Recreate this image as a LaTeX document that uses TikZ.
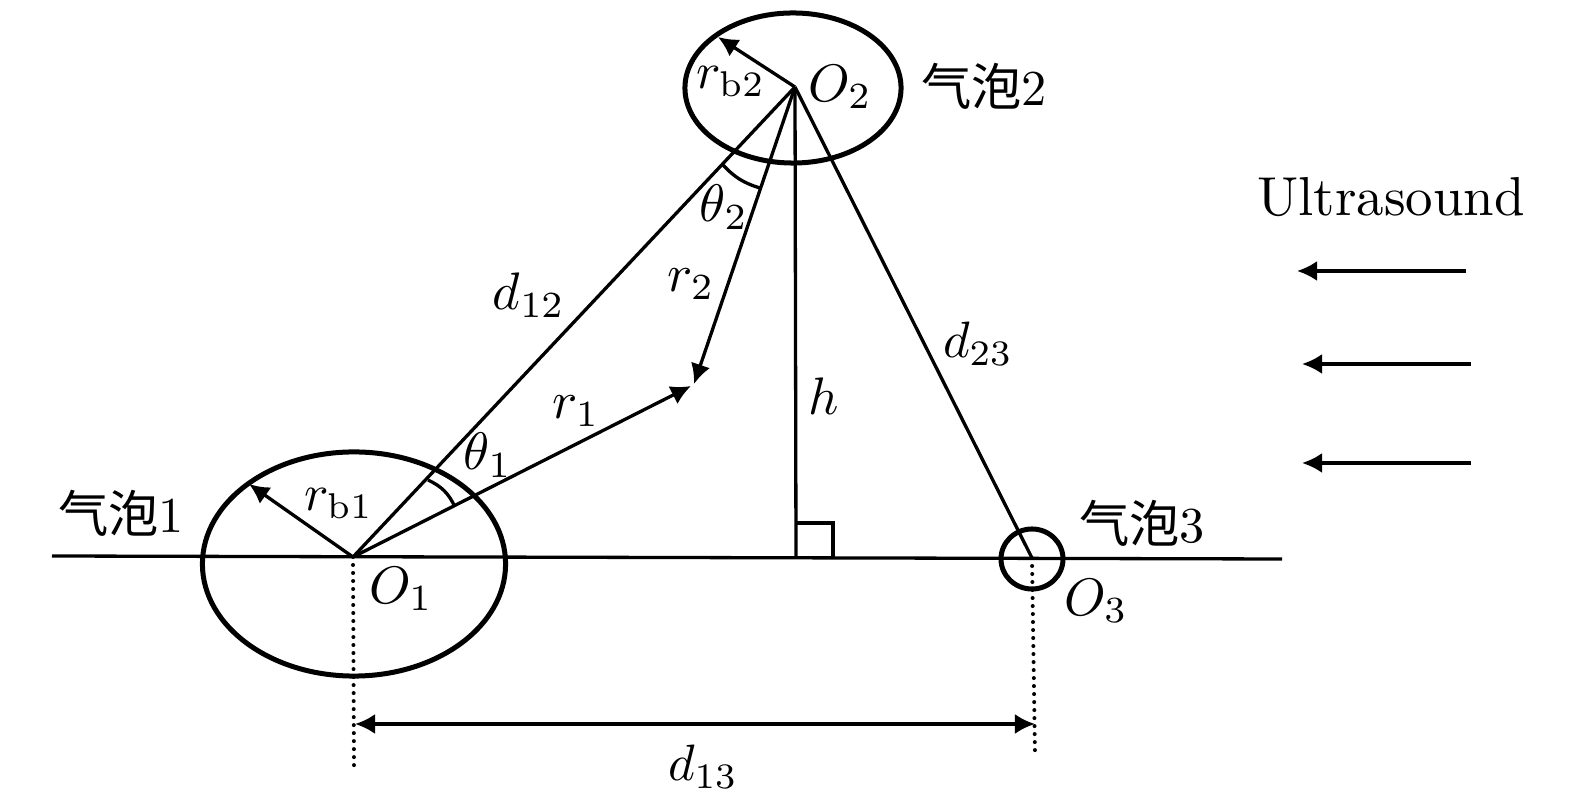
\documentclass[tikz,border=0pt]{standalone}
\usepackage{fontspec}
\usetikzlibrary{shapes.geometric, arrows.meta}
\newfontfamily\cjk{Noto Sans CJK SC}
\tikzstyle{bubble} = [ellipse, draw, line width=0.05cm, inner sep=0, outer sep=0]
\tikzstyle{mtext} = [inner sep=0, scale=1.5]
\tikzstyle{bubtext} = [inner sep=0, scale=1.43]
\tikzstyle{thinline} = [line width=0.033cm]
\tikzstyle{radarrow} = [line width=0.033cm, -{Latex[length=0.2cm,width=0.2cm]}]
\tikzstyle{spanarrow} = [line width=0.033cm, {Latex[length=0.2cm,width=0.2cm]}-{Latex[length=0.2cm,width=0.2cm]}]
\tikzstyle{guideline} = [line width=0.04cm, line cap=round, dash pattern=on 0pt off 0.08cm]

\begin{document}
\begin{tikzpicture}[x=0.01cm, y=-0.01cm]
\useasboundingbox (0,0) rectangle (1575,807);
%Points
\coordinate (o1) at (353,557);
\coordinate (o2) at (795,87);
\coordinate (o3) at (1032,558);
\coordinate (foot) at (796,558);
\coordinate (axisl) at (52,556);
\coordinate (axisr) at (1282,559);
\coordinate (tip1) at (691,386);
\coordinate (tip2) at (694,384);
\coordinate (tipb1) at (249,484);
\coordinate (tipb2) at (718,37);
\coordinate (guide1) at (354,768);
\coordinate (guide3) at (1035,755);
\coordinate (spanl) at (355,724);
\coordinate (spanr) at (1035,724);
\coordinate (sqa) at (796,523);
\coordinate (sqb) at (833,523);
\coordinate (sqc) at (833,558);
\coordinate (arca1) at (428,480);
\coordinate (arcb1) at (455,507);
\coordinate (arca2) at (723,165);
\coordinate (arcb2) at (760,188);
\coordinate (usa) at (1466,271);
\coordinate (usb) at (1297,271);
\coordinate (usc) at (1471,364);
\coordinate (usd) at (1302,364);
\coordinate (use) at (1471,463);
\coordinate (usf) at (1302,463);
%Bubbles
\node (bub1) [bubble, minimum width=3.03cm, minimum height=2.24cm] at (354,564) {};
\node (bub2) [bubble, minimum width=2.16cm, minimum height=1.5cm] at (793,88) {};
\node (bub3) [bubble, minimum width=0.62cm, minimum height=0.6cm] at (1032,559) {};
%Lines
\draw [thinline] (axisl) -- (axisr);
\draw [thinline] (o2) -- (o1);
\draw [thinline] (o2) -- (o3);
\draw [thinline] (o2) -- (foot);
\draw [thinline] (sqa) -- (sqb) -- (sqc);
\draw [thinline] (arca1) to[bend left=20] (arcb1);
\draw [thinline] (arca2) to[bend right=15] (arcb2);
\draw [guideline] (o1) -- (guide1);
\draw [guideline] (o3) -- (guide3);
\draw [radarrow] (o1) -- (tip1);
\draw [radarrow] (o2) -- (tip2);
\draw [radarrow] (o1) -- (tipb1);
\draw [radarrow] (o2) -- (tipb2);
\draw [spanarrow] (spanl) -- (spanr);
\draw [radarrow] (usa) -- (usb);
\draw [radarrow] (usc) -- (usd);
\draw [radarrow] (use) -- (usf);
%Labels
\node (lrb2) [mtext, scale=0.97] at (731,82) {$r_{\mathrm{b}2}$};
\node (lo2) [mtext] at (840,87) {$O_2$};
\node (lbub2) [bubtext] at (984,86) {{\cjk 气泡}2};
\node (lth2) [mtext] at (724,207) {$\theta_2$};
\node (ld12) [mtext] at (529,295) {$d_{12}$};
\node (lr2) [mtext] at (691,284) {$r_2$};
\node (lr1) [mtext] at (576,411) {$r_1$};
\node (lth1) [mtext] at (488,455) {$\theta_1$};
\node (lrb1) [mtext, scale=0.97] at (339,504) {$r_{\mathrm{b}1}$};
\node (lo1) [mtext] at (401,589) {$O_1$};
\node (lh) [mtext] at (824,396) {$h$};
\node (ld23) [mtext, scale=0.97] at (978,344) {$d_{23}$};
\node (lbub1) [bubtext] at (121,513) {{\cjk 气泡}1};
\node (lbub3) [bubtext] at (1142,523) {{\cjk 气泡}3};
\node (lo3) [mtext] at (1096,601) {$O_3$};
\node (ld13) [mtext, scale=0.97] at (703,767) {$d_{13}$};
\node (lus) [mtext, scale=1.04] at (1391,197) {Ultrasound};
\end{tikzpicture}
\end{document}
